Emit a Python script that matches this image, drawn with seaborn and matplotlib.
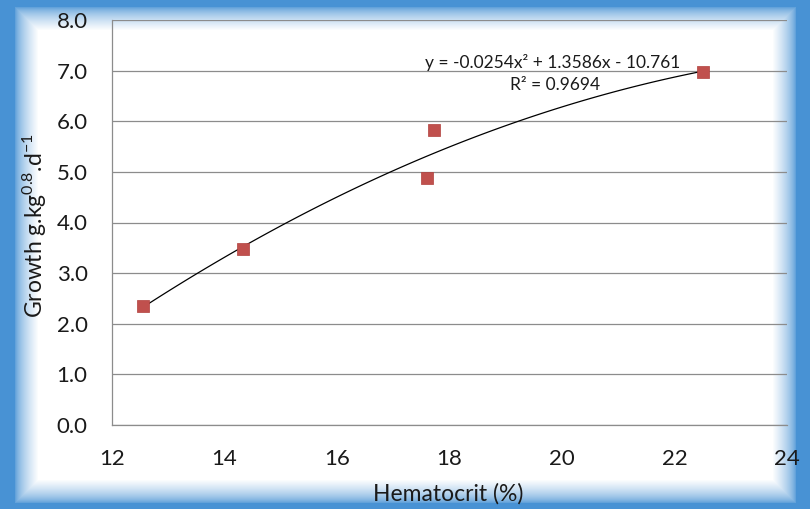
import numpy as np
import pandas as pd
import matplotlib.pyplot as plt
import seaborn as sns

# values
hematocrit = [12.55, 14.32, 17.60, 17.72, 22.51]
growth = [2.35, 3.48, 4.87, 5.83, 6.98]
equation_text = "y = -0.0254x\u00b2 + 1.3586x - 10.761"
r2_text = "R\u00b2 = 0.9694"
x_ticks = [12, 14, 16, 18, 20, 22, 24]
y_ticks = [0.0, 1.0, 2.0, 3.0, 4.0, 5.0, 6.0, 7.0, 8.0]

data = pd.DataFrame({"Hematocrit": hematocrit, "Growth": growth})

sns.set_theme(style="white")
plt.rcParams["font.family"] = ["Lato", "DejaVu Sans"]
plt.rcParams["mathtext.fontset"] = "custom"
plt.rcParams["mathtext.rm"] = "Lato"
plt.rcParams["mathtext.it"] = "Lato:italic"
plt.rcParams["mathtext.bf"] = "Lato:bold"

W, H = 810, 509
fig = plt.figure(figsize=(W / 100, H / 100), dpi=100)

# blue glow frame round a white panel
yy, xx = np.mgrid[0:H, 0:W]
d = np.minimum.reduce([xx - 14, 796 - xx, yy - 6, 503 - yy]).astype(float)
t = np.clip(d / 24.0, 0, 1) ** 0.6
blue = np.array([72, 146, 212]) / 255.0
white = np.array([1.0, 1.0, 1.0])
img = blue[None, None, :] * (1 - t[..., None]) + white[None, None, :] * t[..., None]
fig.figimage(img, 0, 0, origin="upper", zorder=-1)

ax = fig.add_axes([112 / W, 1 - 425 / H, (787 - 112) / W, (425 - 20) / H])
ax.set_zorder(1)
ax.set_facecolor("none")

sns.regplot(data=data, x="Hematocrit", y="Growth", order=2, ci=None,
            scatter=False, truncate=True,
            line_kws={"color": "black", "linewidth": 0.9}, ax=ax)
sns.scatterplot(data=data, x="Hematocrit", y="Growth", marker="s", s=70,
                color="#c0504d", edgecolor="#b03f3c", linewidth=0.5,
                zorder=5, ax=ax)

ax.set_xlim(12, 24)
ax.set_ylim(0, 8)
ax.set_xticks(x_ticks)
ax.set_yticks(y_ticks)
ax.set_yticklabels([f"{v:.1f}" for v in y_ticks])
ax.yaxis.grid(True, color="#8c8c8c", linewidth=0.9)
ax.set_axisbelow(True)

for s in ["top", "right"]:
    ax.spines[s].set_visible(False)
for s in ["left", "bottom"]:
    ax.spines[s].set_color("#8c8c8c")
    ax.spines[s].set_linewidth(0.9)

ax.tick_params(axis="both", which="major", direction="out", length=6.5,
               width=0.9, color="#8c8c8c", labelsize=16, labelcolor="#1a1a1a",
               pad=11)

ax.set_xlabel("Hematocrit (%)", fontsize=16.5, color="#1a1a1a")
ax.set_ylabel(r"Growth g.kg$^{0.8}$.d$^{\mathrm{-}1}$", fontsize=16.5,
              color="#1a1a1a")
ax.xaxis.set_label_coords(0.498, -0.143)
ax.yaxis.set_label_coords(-0.094, 0.491)

ax.text(19.84, 7.17, equation_text, fontsize=12.5, color="#1a1a1a",
        ha="center", va="center")
ax.text(19.87, 6.72, r2_text, fontsize=12.5, color="#1a1a1a",
        ha="center", va="center")

fig.savefig("out.png", dpi=100)
